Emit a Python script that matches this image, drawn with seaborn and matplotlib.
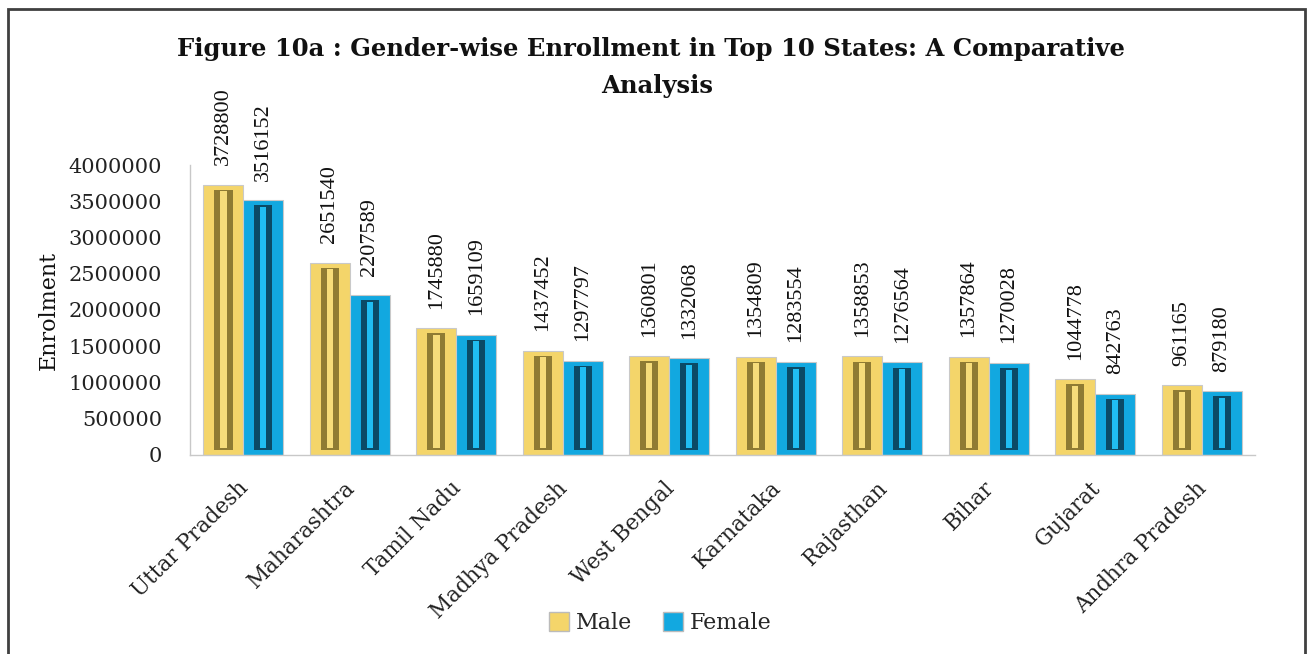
import matplotlib
matplotlib.use("Agg")
import matplotlib.pyplot as plt
from matplotlib.patches import Rectangle
import matplotlib.transforms as mtransforms
import seaborn as sns
import pandas as pd

states = ["Uttar Pradesh", "Maharashtra", "Tamil Nadu", "Madhya Pradesh", "West Bengal",
          "Karnataka", "Rajasthan", "Bihar", "Gujarat", "Andhra Pradesh"]
male = [3728800, 2651540, 1745880, 1437452, 1360801, 1354809, 1358853, 1357864, 1044778, 961165]
female = [3516152, 2207589, 1659109, 1297797, 1332068, 1283554, 1276564, 1270028, 842763, 879180]
series = ["Male", "Female"]
yticks = [0, 500000, 1000000, 1500000, 2000000, 2500000, 3000000, 3500000, 4000000]

df = pd.DataFrame({
    "State": states * 2,
    "Gender": ["Male"] * len(states) + ["Female"] * len(states),
    "Enrolment": male + female,
})

sns.set_theme(style="white")
plt.rcParams["font.family"] = ["DejaVu Serif"]

fig = plt.figure(figsize=(13.07, 6.54), dpi=100)
ax = fig.add_axes([0.1454, 0.3043, 0.8148, 0.4434])

palette = {"Male": "#F4D56A", "Female": "#12A8E0"}
sns.barplot(data=df, x="State", y="Enrolment", hue="Gender", order=states,
            hue_order=series, palette=palette, width=0.75, saturation=1,
            edgecolor="#C9C9C9", linewidth=0.8, ax=ax, legend=True)

# bevel-style decoration derived from the drawn bars
inner = {"Male": ("#8F7B33", "#F6DC7A"), "Female": ("#0B4A66", "#20BDF2")}
for cont, name in zip(ax.containers, series):
    dark, light = inner[name]
    for p in cont.patches:
        x0, w, h = p.get_x(), p.get_width(), p.get_height()
        iw = w * 0.46
        ih_pad = min(h * 0.08, 70000)
        ax.add_patch(Rectangle((x0 + (w - iw) / 2, ih_pad), iw, h - 2 * ih_pad,
                               facecolor=dark, edgecolor="none", zorder=p.get_zorder() + 0.1))
        sw = w * 0.16
        ax.add_patch(Rectangle((x0 + (w - sw) / 2, ih_pad * 1.3), sw, h - 2.6 * ih_pad,
                               facecolor=light, edgecolor="none", zorder=p.get_zorder() + 0.2))
    ax.bar_label(cont, labels=[str(int(v)) for v in cont.datavalues], rotation=90,
                 padding=14, fontsize=16, family="Liberation Serif", color="#111111")

ax.set_ylim(0, 4000000)
ax.set_yticks(yticks)
ax.set_yticklabels([str(v) for v in yticks], fontsize=15, color="#222222")
ax.set_xlim(-0.5, len(states) - 0.5)
ax.set_xticks(range(len(states)))
ax.set_xticklabels(states, rotation=45, ha="right", rotation_mode="anchor",
                   fontsize=15.5, color="#222222")
ax.tick_params(axis="y", length=0, pad=20)
ax.tick_params(axis="x", length=0, pad=16)
shift = mtransforms.ScaledTranslation(-6 / 100, 0, fig.dpi_scale_trans)
for lbl in ax.get_xticklabels():
    lbl.set_transform(lbl.get_transform() + shift)
ax.set_xlabel("")
ax.set_ylabel("Enrolment", fontsize=16, color="#111111", labelpad=6)

for s in ["top", "right"]:
    ax.spines[s].set_visible(False)
for s in ["left", "bottom"]:
    ax.spines[s].set_color("#C8C8C8")
    ax.spines[s].set_linewidth(1.0)

leg = ax.get_legend()
leg.remove()
handles = [Rectangle((0, 0), 1, 1, facecolor=palette[s], edgecolor="#BBBBBB") for s in series]
fig.legend(handles, series, loc="center", bbox_to_anchor=(0.505, 0.047), ncol=2,
           frameon=False, fontsize=16, handlelength=0.9, handleheight=0.9,
           handletextpad=0.3, columnspacing=1.4)

fig.text(0.498, 0.925, "Figure 10a : Gender-wise Enrollment in Top 10 States: A Comparative",
         ha="center", va="center", fontsize=17.5, fontweight="bold", color="#111111")
fig.text(0.503, 0.868, "Analysis", ha="center", va="center", fontsize=17.5,
         fontweight="bold", color="#111111")

fig.add_artist(Rectangle((8 / 1307, -0.1), (1305 - 8) / 1307, 1.1 - 9 / 654,
                         transform=fig.transFigure, fill=False, edgecolor="#404040",
                         linewidth=2))

fig.savefig("out.png", dpi=100)
